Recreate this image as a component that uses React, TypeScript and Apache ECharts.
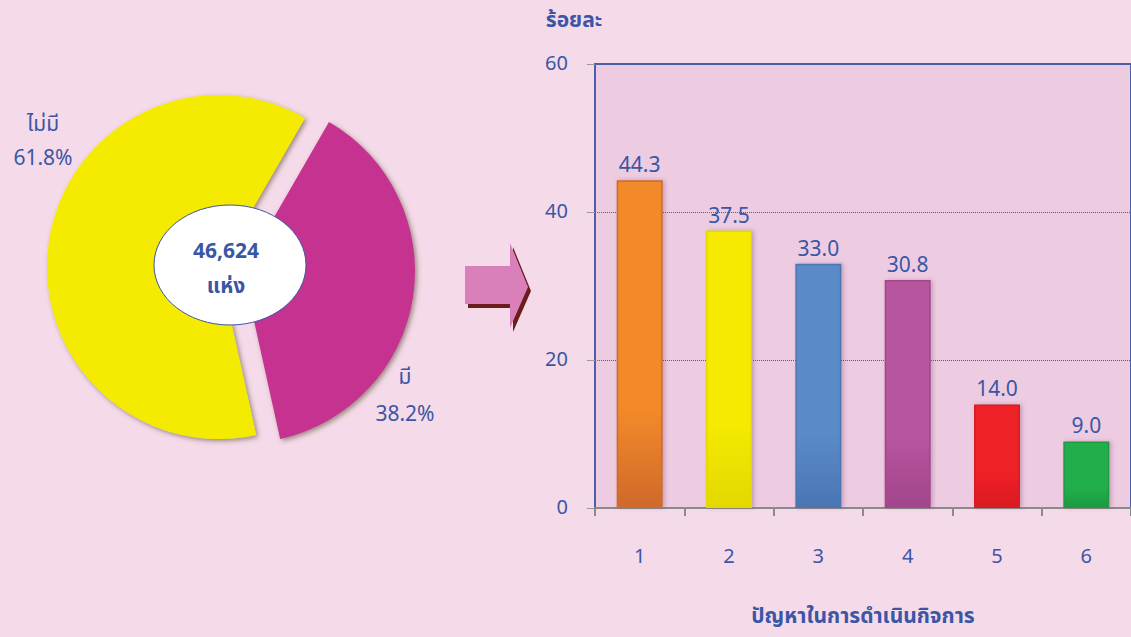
import React, { useEffect, useRef } from "react";
import * as echarts from "echarts";

const pieLabels = ["มี", "ไม่มี"];
const pieValues = [38.2, 61.8];
const pieColors = ["#C6318F", "#F5EB00"];
const totalText = "46,624";
const unitText = "แห่ง";

const barCategories = ["1", "2", "3", "4", "5", "6"];
const barValues = [44.3, 37.5, 33.0, 30.8, 14.0, 9.0];
const barColors = ["#F28A2A", "#F5EA00", "#5A8AC8", "#B7549E", "#EE2027", "#22AF4B"];
const barDark = ["#D0692A", "#E3D800", "#4A76B3", "#A2468B", "#D81C22", "#1C9A40"];
const yTicks = [0, 20, 40, 60];
const yAxisTitle = "ร้อยละ";
const xAxisTitle = "ปัญหาในการดำเนินกิจการ";

const BLUE = "#3B56A5";
const FONT = 'Tahoma, "Noto Sans Thai", "Noto Sans", "DejaVu Sans", sans-serif';

export default function App() {
  const ref = useRef<HTMLDivElement>(null);
  useEffect(() => {
    if (!ref.current) return;
    const chart = echarts.init(ref.current, undefined, { renderer: "svg" });
    const slice = (idx: number, keep: number) => ({
      value: pieValues[idx],
      name: pieLabels[idx],
      itemStyle:
        idx === keep
          ? {
              color: pieColors[idx],
              shadowColor: "rgba(80,60,40,0.55)",
              shadowBlur: 5,
              shadowOffsetX: 2,
              shadowOffsetY: 2,
            }
          : { color: "rgba(0,0,0,0)" },
    });
    const pieSeries = (keep: number, center: number[]) => ({
      type: "pie",
      center,
      radius: 172,
      startAngle: 60,
      clockwise: true,
      silent: true,
      label: { show: false },
      labelLine: { show: false },
      emphasis: { disabled: true },
      data: pieValues.map((_, i) => slice(i, keep)),
    });
    const arrowPts = [
      [465, 266],
      [510, 266],
      [510, 243],
      [528, 287],
      [510, 328],
      [510, 304],
      [465, 304],
    ];
    const txt = (text: string, x: number, y: number, font: string) => ({
      type: "text",
      z: 101,
      x,
      y,
      style: {
        text,
        fill: BLUE,
        font: `${font} ${FONT}`,
        textAlign: "center",
        textVerticalAlign: "middle",
      },
    });
    chart.setOption({
      animation: false,
      backgroundColor: "#F5DBE9",
      textStyle: { fontFamily: FONT },
      grid: {
        left: 595,
        top: 64,
        bottom: 129,
        right: -2,
        show: true,
        backgroundColor: "#EDCCE2",
        borderColor: "#4A5FAA",
        borderWidth: 2,
      },
      xAxis: {
        type: "category",
        data: barCategories,
        axisLine: { show: true, lineStyle: { color: "#8A8A8A", width: 2 } },
        axisTick: { show: true, length: 8, lineStyle: { color: "#8A8A8A", width: 2 } },
        axisLabel: { color: BLUE, fontSize: 20, margin: 39, fontFamily: FONT },
        name: xAxisTitle,
        nameLocation: "middle",
        nameGap: 98,
        nameTextStyle: { color: BLUE, fontSize: 21, fontWeight: "bold", fontFamily: FONT },
      },
      yAxis: {
        type: "value",
        min: 0,
        max: 60,
        interval: 20,
        axisLine: { show: true, lineStyle: { color: "#4A5FAA", width: 2 } },
        axisTick: { show: true, length: 8, lineStyle: { color: "#9A9A9A", width: 1 } },
        axisLabel: {
          color: BLUE,
          fontSize: 20,
          margin: 27,
          fontFamily: FONT,
          formatter: (v: number) => (yTicks.includes(v) ? String(v) : ""),
        },
        splitLine: { show: true, lineStyle: { color: "#5A5A7A", type: "dotted", width: 1 } },
      },
      series: [
        pieSeries(0, [243, 271]),
        pieSeries(1, [219, 267]),
        {
          type: "bar",
          barWidth: 46,
          data: barValues.map((v, i) => ({
            value: v,
            itemStyle: {
              color: {
                type: "linear",
                x: 0,
                y: 0,
                x2: 0,
                y2: 1,
                colorStops: [
                  { offset: 0, color: barColors[i] },
                  { offset: 0.7, color: barColors[i] },
                  { offset: 1, color: barDark[i] },
                ],
              },
              borderColor: barDark[i],
              borderWidth: 1.5,
              shadowColor: "rgba(120,60,100,0.35)",
              shadowBlur: 4,
              shadowOffsetX: 2,
            },
          })),
          label: {
            show: true,
            position: "top",
            distance: 4,
            color: BLUE,
            fontSize: 21,
            fontFamily: FONT,
            formatter: (p: any) => Number(p.value).toFixed(1),
          },
        },
      ],
      graphic: [
        {
          type: "polygon",
          z: 50,
          shape: { points: arrowPts.map((p) => [p[0] + 3, p[1] + 4]) },
          style: { fill: "#6B1C1C" },
        },
        {
          type: "polygon",
          z: 51,
          shape: { points: arrowPts },
          style: { fill: "#D97FB9" },
        },
        {
          type: "ellipse",
          z: 100,
          shape: { cx: 230, cy: 265, rx: 76, ry: 60 },
          style: { fill: "#FFFFFF", stroke: "#3B56A5", lineWidth: 1 },
        },
        txt(totalText, 226, 251, "bold 21px"),
        txt(unitText, 226, 286, "bold 21px"),
        txt(pieLabels[1], 43, 124, "21px"),
        txt(pieValues[1].toFixed(1) + "%", 43, 158, "21px"),
        txt(pieLabels[0], 405, 377, "21px"),
        txt(pieValues[0].toFixed(1) + "%", 405, 414, "21px"),
        txt(yAxisTitle, 574, 20, "bold 21px"),
      ],
    });
    return () => chart.dispose();
  }, []);
  return (
    <div
      ref={ref}
      style={{ position: "fixed", left: 0, top: 0, width: 1131, height: 637 }}
    />
  );
}
